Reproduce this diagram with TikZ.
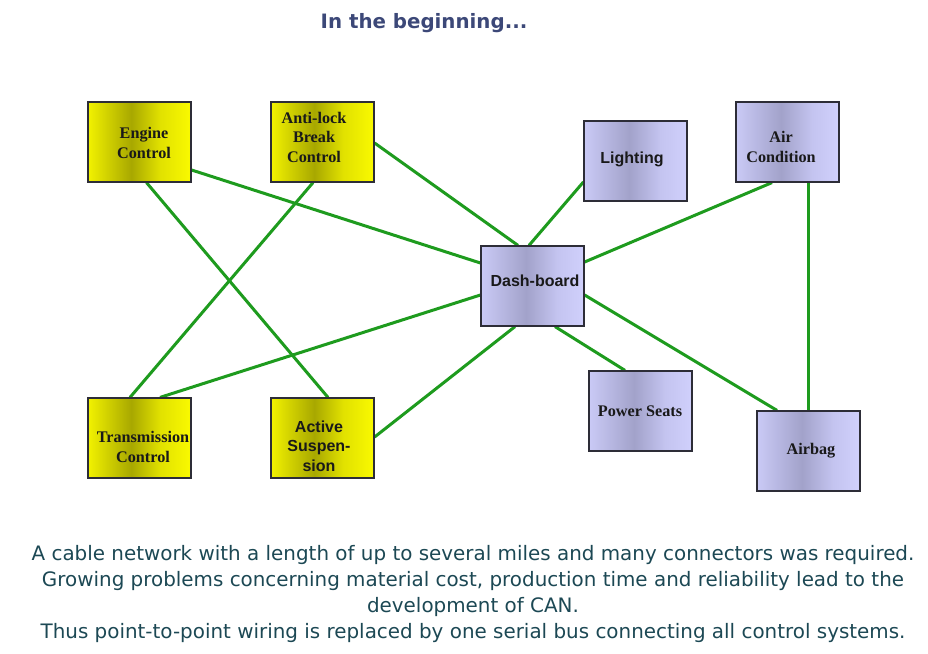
\documentclass[tikz,border=0pt]{standalone}
\usepackage{fontspec}
\usetikzlibrary{backgrounds}
\newfontfamily\titlefont{DejaVu Sans}
\newfontfamily\notefont{DejaVu Sans}
\newfontfamily\tmsfont{Liberation Serif}
\newfontfamily\arlfont{Liberation Sans}

\definecolor{yA}{RGB}{242,242,0}
\definecolor{yB}{RGB}{168,168,0}
\definecolor{yC}{RGB}{225,225,0}
\definecolor{yD}{RGB}{250,250,0}
\definecolor{bA}{RGB}{202,202,246}
\definecolor{bB}{RGB}{162,162,202}
\definecolor{bC}{RGB}{196,196,240}
\definecolor{bD}{RGB}{208,208,252}
\definecolor{wire}{RGB}{30,155,30}
\definecolor{titleblue}{RGB}{60,72,120}
\definecolor{notecol}{RGB}{28,72,84}
\definecolor{frame}{RGB}{45,45,55}

\pgfdeclarehorizontalshading{yellowbar}{100bp}{color(0bp)=(yA); color(25bp)=(yA); color(46bp)=(yB); color(60bp)=(yC); color(75bp)=(yD); color(100bp)=(yD)}
\pgfdeclarehorizontalshading{bluebar}{100bp}{color(0bp)=(bA); color(25bp)=(bA); color(47bp)=(bB); color(62bp)=(bC); color(75bp)=(bD); color(100bp)=(bD)}

\tikzset{
  unitbox/.style={draw=frame, line width=1.2pt, minimum width=103pt, minimum height=80pt, inner sep=0pt},
  ecu/.style={unitbox, shading=yellowbar},
  dev/.style={unitbox, shading=bluebar},
  serlabel/.style={font=\tmsfont\bfseries\fontsize{16.2}{19.5}\selectfont, align=center, text=black!90, inner sep=0pt},
  sanlabel/.style={font=\arlfont\bfseries\fontsize{16}{19.5}\selectfont, align=center, text=black!90, inner sep=0pt},
  cable/.style={draw=wire, line width=3pt}
}

\begin{document}
\begin{tikzpicture}[x=1pt, y=-1pt]
\useasboundingbox (0,0) rectangle (928,653);

\node[font=\titlefont\bfseries\fontsize{19.8}{24}\selectfont, text=titleblue] (title) at (424,23) {In the beginning...};

% control units
\node[ecu] (eng) at (139.5,142) {};
\node[ecu] (abs) at (322.5,142) {};
\node[ecu] (trn) at (139.5,438) {};
\node[ecu] (sus) at (322.5,438) {};
% body devices
\node[dev] (lig) at (635.5,161) {};
\node[dev] (air) at (787.5,142) {};
\node[dev] (dash) at (532.5,286) {};
\node[dev] (seat) at (640.5,411) {};
\node[dev] (bag) at (808.5,451) {};

% labels
\node[serlabel] (engt) at (144,143) {Engine\\Control};
\node[serlabel] (abst) at (314,137) {Anti-lock\\Break\\Control};
\node[serlabel] (trnt) at (143,447) {Transmission\\Control};
\node[sanlabel] (sust) at (319,446) {Active\\Suspen-\\sion};
\node[sanlabel] (ligt) at (632,159) {Lighting};
\node[serlabel] (airt) at (781,147) {Air\\Condition};
\node[sanlabel] (dasht) at (535,281) {Dash-board};
\node[serlabel] (seatt) at (640,411) {Power Seats};
\node[serlabel] (bagt) at (811,451) {Airbag};

% point-to-point wiring, kept behind the boxes
\begin{scope}[on background layer]
\draw[cable] ([yshift=-28pt]eng.east) -- ([yshift=23pt]dash.west);
\draw[cable] ([xshift=7pt]eng.south) -- ([xshift=5.5pt]sus.north);
\draw[cable] ([xshift=-9.5pt]abs.south) -- ([xshift=-9.5pt]trn.north);
\draw[cable] ([yshift=-1pt]abs.east) -- ([xshift=-14.5pt]dash.north);
\draw[cable] ([yshift=-21pt]lig.west) -- ([xshift=-3.5pt]dash.north);
\draw[cable] ([xshift=-15.5pt]air.south) -- ([yshift=24pt]dash.east);
\draw[cable] ([xshift=20.5pt]air.south) -- ([xshift=-0.5pt]bag.north);
\draw[cable] ([yshift=-9pt]dash.east) -- ([xshift=-31.5pt]bag.north);
\draw[cable] ([xshift=22.5pt]dash.south) -- ([xshift=-15.5pt]seat.north);
\draw[cable] ([yshift=-9pt]dash.west) -- ([xshift=20.5pt]trn.north);
\draw[cable] ([xshift=-17.5pt]dash.south) -- ([yshift=1pt]sus.east);
\end{scope}

\node[font=\notefont\fontsize{19.9}{26}\selectfont, text=notecol, align=center] (note) at (473,594)
{A cable network with a length of up to several miles and many connectors was required.\\
Growing problems concerning material cost, production time and reliability lead to the\\
development of CAN.\\
Thus point-to-point wiring is replaced by one serial bus connecting all control systems.};
\end{tikzpicture}
\end{document}
